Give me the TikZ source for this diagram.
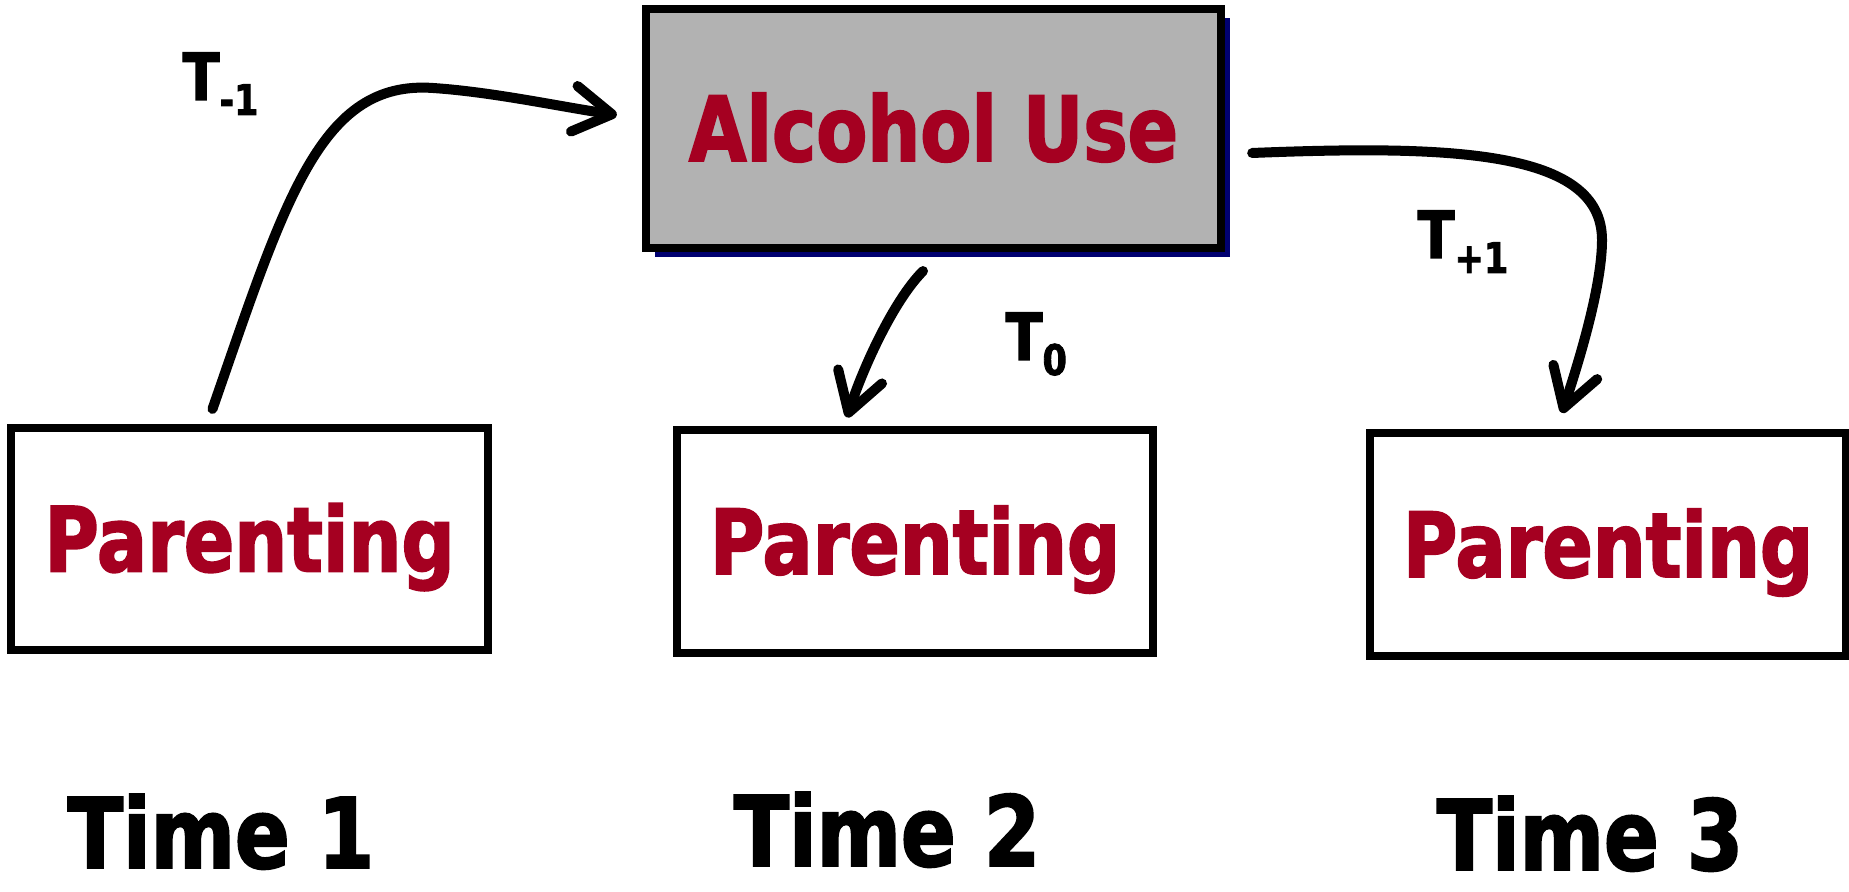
\documentclass[tikz,border=0pt]{standalone}
\usepackage{fontspec}
\usetikzlibrary{arrows.meta,shadows}
\newfontfamily\diagfont[FakeStretch=0.83, BoldFeatures={FakeBold=2}]{DejaVu Sans}
\definecolor{vino}{HTML}{A50021}
\definecolor{grisbox}{HTML}{B2B2B2}
\definecolor{marino}{HTML}{000070}

\tikzset{
  caja/.style={draw, line width=0.08cm, fill=white, inner sep=0pt, text=vino,
    minimum width=4.76cm, minimum height=2.22cm,
    font=\diagfont\bfseries\fontsize{25.5}{28}\selectfont, text height=0.65cm, text depth=0pt},
  flecha/.style={-{Straight Barb[length=0.38cm, width=0.46cm, round]}, line width=0.1cm, line cap=round},
  etiq/.style={inner sep=0pt, anchor=base west, font=\diagfont\bfseries\fontsize{18.5}{20}\selectfont},
  tiempo/.style={inner sep=0pt, anchor=base, font=\diagfont\bfseries\fontsize{27.7}{32}\selectfont}
}
\newcommand{\subT}[1]{\raisebox{-0.15cm}{\fontsize{12}{13}\selectfont #1}}

\begin{document}
\begin{tikzpicture}[x=0.01cm, y=-0.01cm]
    \useasboundingbox (0,0) rectangle (1849,892);

    % 1. Caja central (consumo de alcohol) con sombra azul
    \node[caja, fill=grisbox, minimum width=5.75cm, minimum height=2.39cm,
      drop shadow={shadow xshift=0.09cm, shadow yshift=-0.09cm, fill=marino, opacity=1}]
      (alcohol) at (933.5,128.5) {Alcohol Use};

    % 2. Cajas de crianza en los tres tiempos
    \node[caja] (crianza1) at (249.5,539) {Parenting};
    \node[caja] (crianza2) at (915,541.5) {Parenting};
    \node[caja] (crianza3) at (1608,544.5) {Parenting};

    % 3. Flecha T-1: de la crianza en tiempo 1 al alcohol
    \coordinate (curvaA) at (433,88);
    \draw[flecha] ([shift={(-37,-15)}]crianza1.north) .. controls +(73,-210) and +(-113,-8) .. (curvaA)
      .. controls +(60,4) and +(-55,-8) .. ([shift={(-25,-13.5)}]alcohol.west);
    \node[etiq] (tmenos) at (182,100) {T\subT{-1}};

    % 4. Flecha T0: del alcohol a la crianza en tiempo 2
    \draw[flecha] ([shift={(-10.5,19)}]alcohol.south) .. controls +(-30,30) and +(15,-47) .. ([shift={(-68,-9)}]crianza2.north);
    \node[etiq] (tcero) at (1005,360) {T\subT{0}};

    % 5. Flecha T+1: del alcohol a la crianza en tiempo 3
    \coordinate (curvaB) at (1602,240);
    \draw[flecha] ([shift={(27,24.5)}]alcohol.east) .. controls +(200,-8) and +(0,-90) .. (curvaB)
      .. controls +(0,50) and +(13,-40) .. ([shift={(-46,-16.5)}]crianza3.north);
    \node[etiq] (tmas) at (1417,258) {T\subT{+1}};

    % 6. Rótulos de tiempo
    \node[tiempo] (tiempo1) at (221,868) {Time 1};
    \node[tiempo] (tiempo2) at (887,866) {Time 2};
    \node[tiempo] (tiempo3) at (1590,870) {Time 3};

\end{tikzpicture}
\end{document}
